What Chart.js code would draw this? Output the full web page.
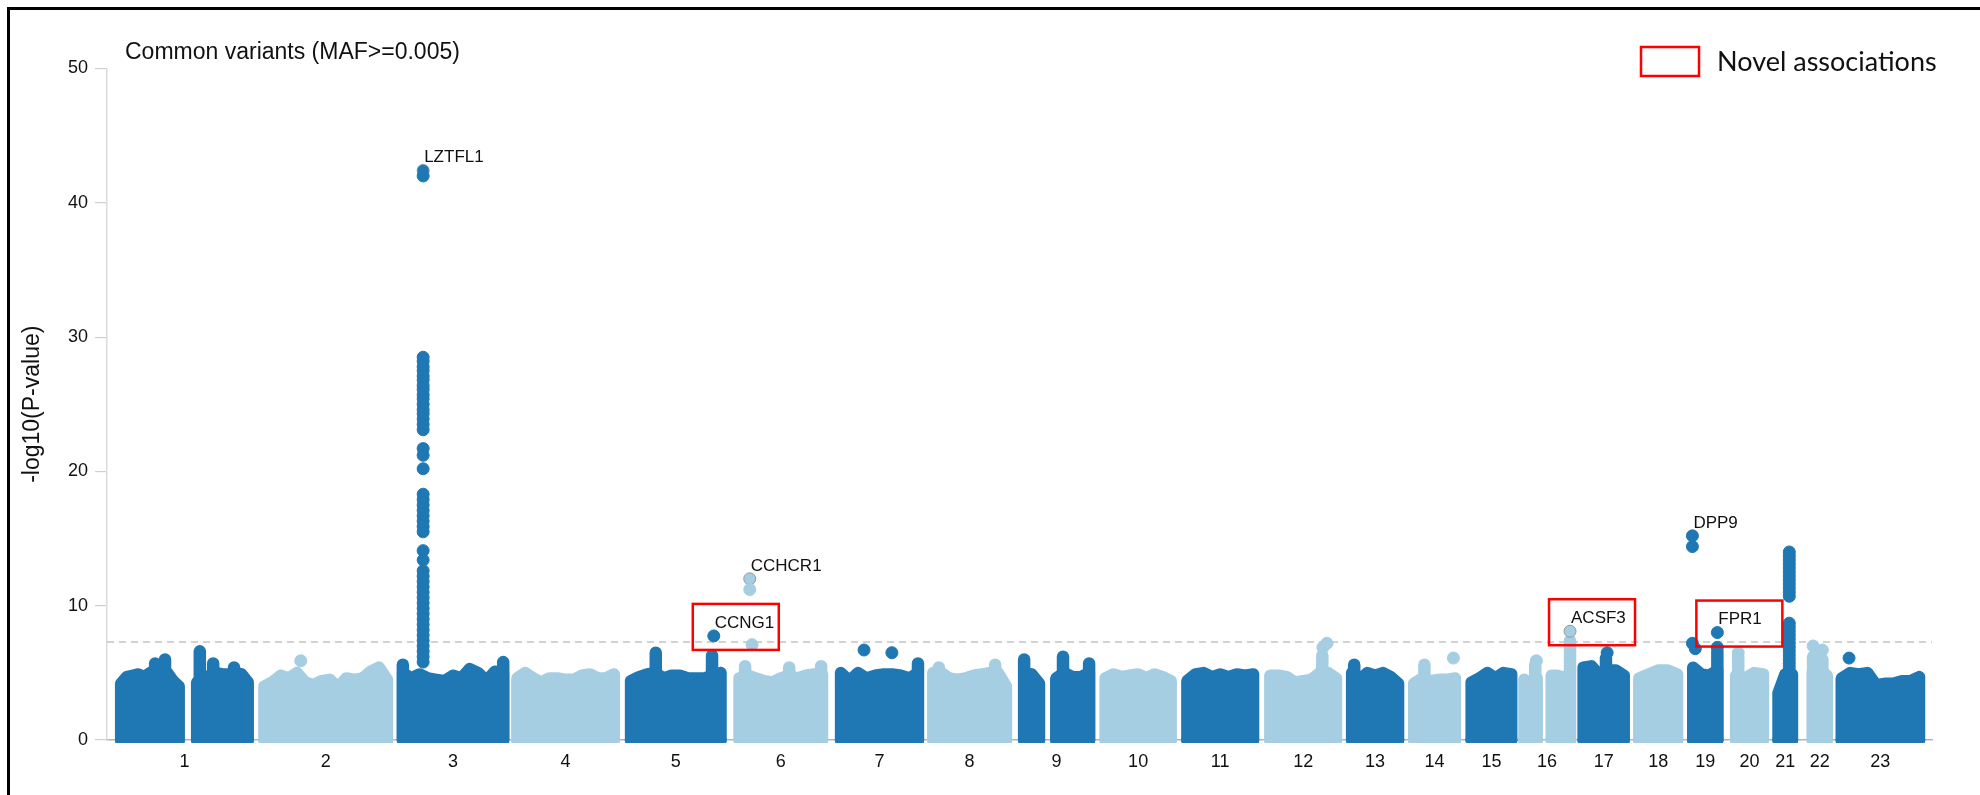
<!DOCTYPE html>
<html>
<head>
<meta charset="utf-8">
<script src="https://cdn.jsdelivr.net/npm/chart.js@4.4.1/dist/chart.umd.min.js"></script>
<style>
  html, body { margin: 0; padding: 0; background: #ffffff; }
  #wrap { position: relative; width: 1980px; height: 795px; overflow: hidden; }
  canvas { display: block; }
</style>
</head>
<body>
<div id="wrap"><canvas id="c" width="1980" height="795"></canvas></div>
<script>
// ---------------- DATA ----------------
const chromosomes = ['1','2','3','4','5','6','7','8','9','10','11','12','13','14','15','16','17','18','19','20','21','22','23'];

// cumulative genomic position (Mb) covered by each chromosome (blocks split at centromere gaps)
const chrBlocks = [
  [[0, 100], [131, 219]],
  [[247, 459]],
  [[486, 659]],
  [[683, 850]],
  [[879, 1034]],
  [[1066, 1209]],
  [[1241, 1374]],
  [[1400, 1526]],
  [[1557, 1583], [1612, 1669]],
  [[1697, 1810]],
  [[1838, 1952]],
  [[1981, 2095]],
  [[2122, 2202]],
  [[2229, 2300]],
  [[2328, 2397]],
  [[2419, 2441], [2466, 2498]],
  [[2521, 2591]],
  [[2617, 2683]],
  [[2710, 2752]],
  [[2784, 2831]],
  [[2857, 2881]],
  [[2916, 2941]],
  [[2966, 3100]]
];

// upper envelope of the dense background of variants (-log10 P), evenly spread across each block
const chrEnvelope = [
  [[4.2, 4.7, 4.8, 4.9, 4.7, 5.0, 5.0, 5.0, 5.0, 4.4, 4.0], [4.3, 4.6, 4.8, 5.0, 4.9, 4.9, 5.0, 4.9, 4.3]],
  [[4.0, 4.3, 4.8, 4.6, 5.0, 4.3, 4.1, 4.4, 4.5, 3.9, 4.6, 4.5, 4.6, 5.1, 5.4, 4.5]],
  [[5.0, 4.6, 4.9, 4.6, 4.5, 4.4, 4.8, 4.6, 5.3, 5.0, 4.4, 5.1, 5.0]],
  [[4.6, 5.0, 4.6, 4.3, 4.6, 4.6, 4.5, 4.5, 4.8, 4.9, 4.6, 4.6, 4.9]],
  [[4.4, 4.7, 4.9, 5.0, 4.6, 4.8, 4.8, 4.6, 4.6, 4.6, 4.8, 5.0]],
  [[4.6, 4.8, 4.6, 4.4, 4.3, 4.6, 4.8, 4.6, 4.8, 4.9, 4.9]],
  [[5.0, 4.4, 5.0, 4.6, 4.8, 4.9, 4.9, 4.8, 4.6, 5.0]],
  [[5.0, 5.0, 4.6, 4.5, 4.6, 4.8, 4.9, 5.0, 5.0, 4.0]],
  [[5.0, 4.9, 4.2], [4.6, 5.0, 4.7, 4.7, 5.0]],
  [[4.6, 4.9, 4.7, 4.8, 4.9, 4.6, 4.9, 4.7, 4.4]],
  [[4.4, 4.9, 5.0, 4.7, 4.9, 4.7, 4.9, 4.8, 4.9]],
  [[4.8, 4.8, 4.7, 4.3, 4.4, 4.5, 5.0, 5.0, 4.6]],
  [[5.0, 4.5, 5.0, 4.8, 5.0, 4.7, 4.2]],
  [[4.2, 4.6, 4.4, 4.5, 4.5, 4.6]],
  [[4.3, 4.6, 5.0, 4.6, 5.0, 4.9]],
  [[4.5, 4.2, 4.6], [4.8, 4.8, 4.6, 5.0]],
  [[5.4, 5.5, 4.8, 5.2, 5.2, 4.8]],
  [[4.6, 4.9, 5.2, 5.2, 4.9]],
  [[5.4, 4.9, 4.8, 5.2]],
  [[4.8, 4.6, 5.0, 4.9]],
  [[3.5, 4.9, 4.9]],
  [[5.0, 5.3, 4.8]],
  [[4.6, 5.0, 4.9, 5.0, 4.1, 4.2, 4.2, 4.4, 4.4, 4.7]]
];

// narrow stacks of variants rising above the background [position Mb, top -log10 P]
const darkSpikes = [[59, 5.7], [76, 6.0], [136, 6.6], [159, 5.7], [195, 5.4], [486, 5.6], [659, 5.8],
  [922, 6.5], [1019, 6.3], [1374, 5.7], [1557, 6.0], [1624, 6.2], [1669, 5.7], [2126, 5.6],
  [2560, 6.1], [2752, 6.6]];
const lightSpikes = [[1076, 5.5], [1152, 5.4], [1207, 5.5], [1410, 5.4], [1507, 5.6], [2071, 6.3],
  [2247, 5.6], [2438, 5.6], [2498, 7.4], [2788, 6.2], [2917, 6.2], [2933, 6.0]];

// strong signal columns
const lztfl1Pos = 521;
const lztfl1Values = [42.4, 42.0, 28.5, 28.2, 27.8, 27.5, 27.1, 26.8, 26.4, 26.1, 25.7, 25.4, 25.0, 24.6, 24.3, 23.9, 23.5, 23.1,
  21.7, 21.2, 20.2, 18.3, 17.9, 17.5, 17.1, 16.7, 16.3, 15.9, 15.5, 14.1, 13.4,
  12.6, 12.2, 11.8, 11.4, 11.0, 10.6, 10.2, 9.8, 9.4, 9.0, 8.6, 8.2, 7.8, 7.4, 7.0, 6.6, 6.2, 5.8];
const chr21Pos = 2876;
const chr21Values = [14.0, 13.7, 13.4, 13.1, 12.8, 12.5, 12.2, 11.9, 11.6, 11.3, 11.0, 10.7,
  8.7, 8.4, 8.1, 7.8, 7.5, 7.2, 6.9, 6.6, 6.3, 6.0, 5.7, 5.4];

// isolated variants standing above the background [position Mb, -log10 P]
const darkPeaks = [[1022, 7.75], [1281, 6.7], [1329, 6.5], [2562, 6.5], [2709, 15.2], [2709, 14.4],
  [2709, 7.2], [2714, 6.8], [2752, 8.0], [2752, 6.9], [2979, 6.1]];
const lightPeaks = [[310, 5.9], [1084, 12.0], [1084, 11.2], [1088, 7.1], [2072, 6.9], [2079, 7.2],
  [2297, 6.1], [2440, 5.9], [2498, 8.1], [2788, 6.5], [2917, 7.0], [2933, 6.7]];

// labelled lead variants
const annotGenes = ['LZTFL1', 'CCHCR1', 'CCNG1', 'ACSF3', 'DPP9', 'FPR1'];
const annotPos   = [521, 1084, 1022, 2498, 2709, 2752];
const annotVals  = [42.4, 12.0, 7.75, 8.1, 15.2, 8.0];
const annotNovel = [false, false, true, true, false, true];

const significance = 7.3; // -log10(5e-8)
const yTicks = [0, 10, 20, 30, 40, 50];

// ---------------- STYLE ----------------
const DARK = '#1f78b4';
const LIGHT = '#a6cee3';
const X_MIN = -24, X_MAX = 3122;
const SANS = '"Liberation Sans", Arial, sans-serif';
const BLOCK_CLIP = {left: 12, right: 12, top: 12, bottom: 3};

const chrCenters = chrBlocks.map(b => (b[0][0] + b[b.length - 1][1]) / 2);

const datasets = [];
// significance line
datasets.push({
  type: 'line', data: [{x: X_MIN, y: significance}, {x: X_MAX, y: significance}],
  borderColor: '#c4c4c4', borderWidth: 1.5, borderDash: [7, 5], pointRadius: 0, fill: false, order: 10
});
// background blocks
chrBlocks.forEach((blocks, ci) => {
  const color = ci % 2 === 0 ? DARK : LIGHT;
  blocks.forEach((rng, bi) => {
    const vals = chrEnvelope[ci][bi];
    const n = vals.length;
    const pts = [{x: rng[0], y: 0}];
    vals.forEach((v, i) => pts.push({x: rng[0] + (rng[1] - rng[0]) * (n > 1 ? i / (n - 1) : 0), y: v}));
    pts.push({x: rng[1], y: 0});
    datasets.push({
      type: 'line', data: pts, borderColor: color, backgroundColor: color,
      borderWidth: 12, borderJoinStyle: 'round', borderCapStyle: 'round',
      fill: 'origin', pointRadius: 0, tension: 0, order: 5, clip: BLOCK_CLIP
    });
    // bottom row of variants along P = 1
    datasets.push({
      type: 'line', data: [{x: rng[0], y: 0}, {x: rng[1], y: 0}], borderColor: color,
      borderWidth: 12, borderCapStyle: 'round', fill: false, pointRadius: 0, order: 5, clip: BLOCK_CLIP
    });
  });
});
// spikes (stacks of overlapping variants)
const spikeData = arr => {
  const d = [];
  arr.slice().sort((a, b) => a[0] - b[0]).forEach(([p, v]) => { d.push({x: p, y: 0}, {x: p, y: v}, {x: p, y: null}); });
  return d;
};
[[darkSpikes, DARK], [lightSpikes, LIGHT]].forEach(([arr, color]) => {
  datasets.push({
    type: 'line', data: spikeData(arr), borderColor: color, borderWidth: 12.5,
    borderCapStyle: 'round', borderJoinStyle: 'round', spanGaps: false,
    fill: false, pointRadius: 0, order: 4, clip: BLOCK_CLIP
  });
});
const highlight = (x, y) => annotPos.some((p, i) => p === x && annotVals[i] === y);
const mkPoints = (arr, color, hiBorder) => ({
  type: 'scatter',
  data: arr.map(([x, y]) => ({x, y})),
  pointRadius: 6, pointHoverRadius: 6,
  pointBackgroundColor: color,
  pointBorderColor: ctx => (ctx.raw && highlight(ctx.raw.x, ctx.raw.y)) ? hiBorder : color,
  pointBorderWidth: 1,
  clip: false, order: 1
});
datasets.push(mkPoints(lztfl1Values.map(v => [lztfl1Pos, v]), DARK, '#6f8fa8'));
datasets.push(mkPoints(chr21Values.map(v => [chr21Pos, v]), DARK, '#6f8fa8'));
datasets.push(mkPoints(darkPeaks, DARK, DARK));
datasets.push(mkPoints(lightPeaks, LIGHT, '#9a9a9a'));

const decorPlugin = {
  id: 'decor',
  beforeDraw(chart) {
    const ctx = chart.ctx;
    ctx.save();
    ctx.fillStyle = '#ffffff';
    ctx.fillRect(0, 0, chart.width, chart.height);
    ctx.restore();
  },
  afterDraw(chart) {
    const {ctx, scales: {x, y}} = chart;
    ctx.save();
    // figure frame
    ctx.fillStyle = '#000000';
    ctx.fillRect(7, 7, chart.width - 7, 3);
    ctx.fillRect(7, 7, 3, chart.height - 7);
    // panel title
    ctx.fillStyle = '#111111';
    ctx.font = '23px ' + SANS;
    ctx.textAlign = 'left';
    ctx.textBaseline = 'middle';
    ctx.fillText('Common variants (MAF>=0.005)', 125, 53);
    // legend
    ctx.strokeStyle = '#ff0000';
    ctx.lineWidth = 2.5;
    ctx.strokeRect(1641, 47, 58, 29);
    ctx.fillStyle = '#111111';
    ctx.font = '27px Lato, "Open Sans", sans-serif';
    ctx.fillText('Novel associations', 1717, 62);
    // gene labels and novel boxes
    ctx.font = '17px ' + SANS;
    annotGenes.forEach((g, i) => {
      const px = x.getPixelForValue(annotPos[i]);
      const py = y.getPixelForValue(annotVals[i]);
      ctx.fillStyle = '#111111';
      ctx.fillText(g, px + 1, py - 13);
      if (annotNovel[i]) {
        ctx.strokeStyle = '#ff0000';
        ctx.lineWidth = 2.5;
        ctx.strokeRect(px - 21, py - 32, 86, 46);
      }
    });
    ctx.restore();
  }
};

new Chart(document.getElementById('c'), {
  type: 'scatter',
  data: { datasets },
  options: {
    responsive: false,
    devicePixelRatio: 1,
    animation: false,
    events: [],
    layout: { padding: { left: 0, right: 48, top: 68.5, bottom: 0 } },
    plugins: { legend: { display: false }, tooltip: { enabled: false }, title: { display: false } },
    scales: {
      x: {
        type: 'linear', min: X_MIN, max: X_MAX,
        grid: { display: false, drawTicks: false },
        border: { display: true, color: '#b4b4b4', width: 1.5 },
        afterBuildTicks: s => { s.ticks = chrCenters.map(v => ({ value: v })); },
        afterFit: s => { s.height = 55; },
        ticks: {
          autoSkip: false, maxRotation: 0, minRotation: 0, padding: 11,
          font: { family: SANS, size: 18 }, color: '#111111',
          callback: (v, i) => chromosomes[i]
        }
      },
      y: {
        type: 'linear', min: 0, max: 50,
        afterBuildTicks: s => { s.ticks = yTicks.map(v => ({ value: v })); },
        afterFit: s => { s.width = 107; },
        grid: { drawOnChartArea: false, drawTicks: true, tickLength: 12, color: '#cfcfcf', lineWidth: 1.2 },
        border: { display: true, color: '#dcdcdc', width: 1.5 },
        ticks: { padding: 7, font: { family: SANS, size: 18 }, color: '#111111' },
        title: {
          display: true, text: '-log10(P-value)', color: '#111111',
          font: { family: SANS, size: 23 }, padding: { top: 19, bottom: 0 }
        }
      }
    }
  },
  plugins: [decorPlugin]
});
</script>
</body>
</html>
